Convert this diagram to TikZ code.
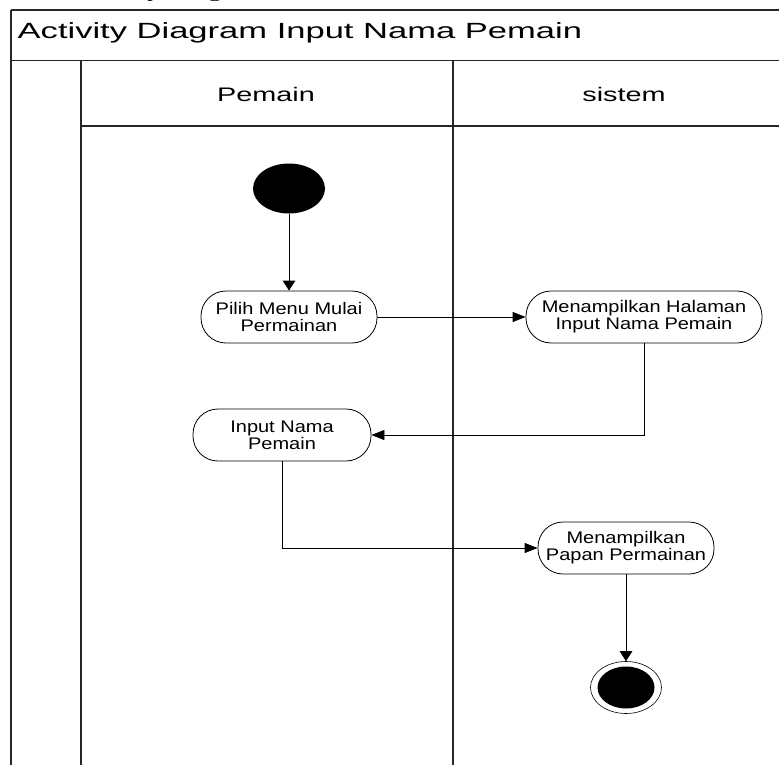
\documentclass[tikz,border=0pt]{standalone}
\usepackage{fontspec}
\setmainfont{Liberation Sans}
\newfontfamily\titlefont{Liberation Sans}[FakeStretch=1.57]
\newfontfamily\lanefont{Liberation Sans}[FakeStretch=1.47]
\newfontfamily\actfont{Liberation Sans}[FakeStretch=1.19]
\newfontfamily\capfont{Liberation Serif}[FakeStretch=1.5]
\usetikzlibrary{arrows.meta,shapes.geometric}

\tikzset{
  frame/.style={draw=black!85, line width=1.3pt},
  lanelabel/.style={anchor=base, inner sep=0pt, font=\lanefont\fontsize{19.6}{20}\selectfont},
  activity/.style={draw, line width=0.8pt, rectangle, rounded corners=25pt,
    minimum height=52pt, inner sep=0pt, align=center, fill=white,
    font=\actfont\fontsize{16.8}{16.7}\selectfont},
  startnode/.style={ellipse, fill=black, minimum width=72pt, minimum height=50pt, inner sep=0pt},
  endring/.style={ellipse, draw, line width=0.6pt, minimum width=71pt, minimum height=52pt, inner sep=0pt},
  enddot/.style={ellipse, fill=black, minimum width=57pt, minimum height=42pt, inner sep=0pt},
  harrow/.style={draw, line width=0.8pt, -{Triangle[length=13pt,width=10pt]}},
  varrow/.style={draw, line width=0.8pt, -{Triangle[length=10pt,width=12.5pt]}},
}

\begin{document}
\begin{tikzpicture}[x=1pt, y=-1pt]
  \useasboundingbox[fill=white] (0,0) rectangle (779,765);

  % caption line above the frame, running off the top of the page
  \node[anchor=base west, inner sep=0pt, font=\capfont\fontsize{18.5}{20}\selectfont]
    (caption) at (70,-2.5) {Activity Diagram};

  % diagram frame and swimlanes
  \draw[frame] (11,10) -- (800,10);
  \draw[frame] (11,10) -- (11,780);
  \draw[frame] (11,60.7) -- (800,60.7);
  \draw[frame] (81,60.7) -- (81,780);
  \draw[frame] (453,60.7) -- (453,780);
  \draw[frame] (81,126) -- (800,126);

  \node[anchor=base west, inner sep=0pt, font=\titlefont\fontsize{22}{24}\selectfont]
    (title) at (17.5,38.4) {Activity Diagram Input Nama Pemain};

  \node[lanelabel] (lanepemain) at (266,101.7) {Pemain};
  \node[lanelabel] (lanesistem) at (624,101.7) {sistem};

  % activities
  \node[startnode] (start) at (289,188.5) {};
  \node[activity, minimum width=176pt] (pilih) at (289,317) {Pilih Menu Mulai\\Permainan};
  \node[activity, minimum width=236pt] (tampil) at (644,317) {Menampilkan Halaman\\Input Nama Pemain};
  \node[activity, minimum width=178pt] (input) at (282,435) {Input Nama\\Pemain};
  \node[activity, minimum width=176pt] (papan) at (626,548) {Menampilkan\\Papan Permainan};
  \node[endring] (end) at (626,687.5) {};
  \node[enddot] (enddot) at (end.center) {};

  % control flow
  \draw[varrow] (start) -- (pilih);
  \draw[harrow] (pilih) -- (tampil);
  \draw[harrow] (tampil.south) |- (input.east);
  \draw[harrow] (input.south) |- (papan.west);
  \draw[varrow] (papan) -- (end);
\end{tikzpicture}
\end{document}
